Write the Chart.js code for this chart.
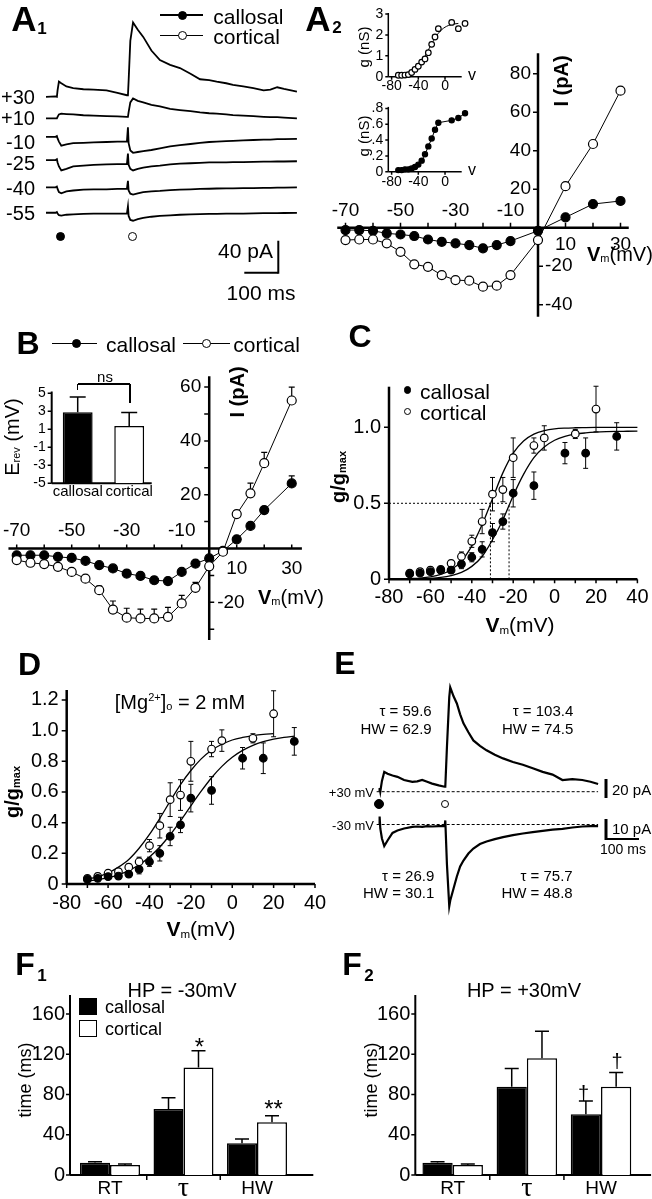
<!DOCTYPE html>
<html>
<head>
<meta charset="utf-8">
<script src="https://cdn.jsdelivr.net/npm/chart.js@4.4.0/dist/chart.umd.min.js"></script>
<style>
  body { margin: 0; width: 652px; height: 1199px; position: relative; background: #fff; overflow: hidden;
         font-family: "Liberation Sans", Arial, sans-serif; color: #000; }
  canvas { position: absolute; left: 0; top: 0; }
  .t { position: absolute; white-space: nowrap; line-height: 1; }
  .sym { position: absolute; box-sizing: border-box; }
  .sub { font-size: 55%; vertical-align: -0.15em; }
  .sup { font-size: 55%; vertical-align: 0.75em; }
</style>
</head>
<body>
<script>
// A1: traces at six holding potentials (ms, pA)
const a1Time = [0, 28, 32, 34, 38, 45, 60, 80, 110, 140, 178, 210, 238, 241, 243, 248, 256, 270, 286, 310,
  335, 365, 394, 425, 453, 480, 502, 530, 550, 580, 610, 640, 660, 680, 700, 738];
const a1Holding = ["+30", "+10", "-10", "-25", "-40", "-55"];
const a1P30 = [0, 0.5, 0, 8, 19, 17, 13, 11, 9.5, 9, 8, 5, 2, 2, 20, 70, 93, 84, 75, 58,
  46, 40, 36, 29, 22, 21, 19, 17, 15, 13, 11, 8, 9, 12, 10, 6.6];
const a1P10 = [0, 0, 0, 2, 5, 6, 5.5, 5, 4, 3.5, 3, 2.5, 2, 2, 8, 20, 25, 22, 20, 17,
  15, 12, 10.5, 9, 7.5, 6.5, 6, 5, 4, 3.5, 3, 2, 1.5, 1.5, 1, 0];
const a1M10 = [0, 0, 1, -2, -6, -11, -9.5, -8, -7.5, -7, -6.5, -6, -6, 12, -8, -17, -20, -19, -18, -16.5,
  -14.5, -12, -10.5, -9, -7.5, -6.5, -6, -5.5, -5, -4.5, -4, -3.5, -3.5, -3, -3, -2.5];
const a1M25 = [0, 0, 1, -3, -8, -13, -11, -8, -7, -6, -5.5, -5, -5, 8, -6, -11, -13, -11, -9.5, -8,
  -7, -5.5, -4.5, -4, -3.5, -3, -3, -2.8, -2.5, -2.5, -2.2, -2, -2, -1.8, -1.8, -1.5];
const a1M40 = [0, 0, 1, -2, -6, -7.5, -5, -4, -3, -2.5, -2.5, -2, -2, 8, -4, -8, -9, -7.5, -6, -5,
  -4.5, -3.5, -3, -2.5, -2, -1.8, -1.5, -1.3, -1.2, -1, -1, -0.8, -0.6, -0.5, -0.3, 0];
const a1M55 = [0, 0, 1, -1, -3, -3.5, -2.5, -2, -1.5, -1.2, -1, -1, -1, 8, -4, -9, -10, -8, -6.5, -5,
  -4, -3.2, -2.5, -2, -1.8, -1.5, -1.3, -1.2, -1, -1, -0.8, -0.6, -0.5, -0.5, -0.3, -0.2];

// A2: I-V of one cell, and conductance insets
const a2Volt = [-70, -65, -60, -55, -50, -45, -40, -35, -30, -25, -20, -15, -10, 0, 10, 20, 30];
const a2Callosal = [-1.2, -1.2, -1.6, -2.9, -3.5, -4.3, -6.1, -7.3, -8.1, -9, -10.7, -9, -6.9, -1.6, 5.4, 12.3, 13.9];
const a2Cortical = [-6.4, -6.1, -6.1, -8.1, -12.5, -19, -20.3, -24.6, -27.2, -27.5, -30.6, -30.1, -24.6, -6.4, 21.6, 43.5, 71.2];
const a2gVolt = [-70, -65, -60, -55, -50, -45, -40, -35, -30, -25, -20, -15, -10, 10, 20, 30];
const a2gCortical = [0.07, 0.07, 0.08, 0.1, 0.2, 0.35, 0.5, 0.7, 0.85, 1.15, 1.55, 1.9, 2.3, 2.6, 2.3, 2.55];
const a2gCallosal = [0.02, 0.02, 0.03, 0.03, 0.04, 0.06, 0.09, 0.14, 0.22, 0.32, 0.42, 0.53, 0.62, 0.65, 0.68, 0.74];
const a2gFitVolt = [-70, -65, -60, -55, -50, -45, -40, -35, -30, -25, -20, -15, -10, -5, 0, 5, 10, 15, 20];
const a2gFit = [0.04, 0.06, 0.09, 0.14, 0.22, 0.34, 0.5, 0.72, 0.98, 1.28, 1.58, 1.86, 2.08, 2.25, 2.37, 2.45, 2.5, 2.53, 2.55];

// B: mean I-V and reversal potential
const bVolt = [-70, -65, -60, -55, -50, -45, -40, -35, -30, -25, -20, -15, -10, -5, 0, 5, 10, 15, 20, 30];
const bCallosal = [-2.5, -2.5, -2.5, -3.1, -3.5, -4.6, -6.2, -7.4, -9.3, -10.2, -11.8, -12.1, -8.7, -5.6, -3.7, -0.9, 3.4, 8.4, 14.3, 24.2];
const bCallosalErr = [0.5, 0.5, 0.5, 0.5, 0.6, 0.8, 1, 1, 1.2, 1.2, 1.3, 1.3, 1, 0.8, 0.6, 0.5, 0.8, 1, 1.2, 2.8];
const bCortical = [-4.3, -5.3, -5.8, -6.8, -8.7, -11.2, -15.5, -22.7, -25.7, -26, -26, -25.4, -20.4, -14.6, -6.6, -1.2, 12.8, 20.5, 31.7, 55];
const bCorticalErr = [0.5, 0.5, 0.6, 0.7, 0.8, 1, 1.5, 3.2, 3.5, 3.5, 3.5, 3.5, 3, 2, 1, 0.8, 1.2, 3.8, 4, 5];
const bErevGroups = ["callosal", "cortical"];
const bErev = [2.9, 1.37];
const bErevErr = [1.7, 1.5];

// C: g/gmax (1 mM Mg)
const cVoltCortical = [-70, -65, -60, -55, -50, -45, -40, -35, -30, -25, -20, -10, -5, 10, 20];
const cCortical = [0.04, 0.05, 0.06, 0.065, 0.105, 0.15, 0.25, 0.38, 0.56, 0.59, 0.8, 0.88, 0.93, 0.956, 1.12];
const cCorticalErr = [0.015, 0.02, 0.02, 0.02, 0.02, 0.03, 0.04, 0.08, 0.11, 0.08, 0.13, 0.05, 0.08, 0.03, 0.15];
const cVoltCallosal = [-70, -65, -60, -55, -50, -45, -40, -35, -30, -25, -20, -10, 5, 15, 30];
const cCallosal = [0.035, 0.04, 0.05, 0.06, 0.06, 0.1, 0.145, 0.197, 0.307, 0.38, 0.566, 0.616, 0.83, 0.83, 0.94];
const cCallosalErr = [0.01, 0.015, 0.015, 0.02, 0.02, 0.03, 0.03, 0.05, 0.06, 0.05, 0.09, 0.09, 0.07, 0.1, 0.09];
const cFitVolt = [-70, -65, -60, -55, -50, -45, -40, -35, -30, -25, -20, -15, -10, -5, 0, 5, 10, 15, 20, 25, 30, 35, 40];
const cFitCortical = [0.004, 0.008, 0.016, 0.032, 0.063, 0.12, 0.22, 0.36, 0.53, 0.7, 0.83, 0.91, 0.955, 0.978, 0.99,
  0.995, 0.997, 0.998, 0.999, 1, 1, 1, 1];
const cFitCallosal = [0.002, 0.003, 0.006, 0.012, 0.024, 0.045, 0.085, 0.15, 0.26, 0.39, 0.55, 0.69, 0.8, 0.87, 0.915,
  0.94, 0.955, 0.963, 0.968, 0.971, 0.973, 0.974, 0.975];
const cHalf = [-31, -22];

// D: g/gmax (2 mM Mg)
const dVoltCortical = [-70, -65, -60, -55, -50, -45, -40, -35, -30, -25, -20, -10, -5, 10, 20];
const dCortical = [0.037, 0.05, 0.07, 0.08, 0.11, 0.145, 0.25, 0.38, 0.55, 0.58, 0.8, 0.88, 0.935, 0.95, 1.11];
const dCorticalErr = [0.015, 0.02, 0.02, 0.02, 0.02, 0.03, 0.04, 0.08, 0.11, 0.1, 0.13, 0.05, 0.07, 0.03, 0.15];
const dVoltCallosal = [-70, -65, -60, -55, -50, -45, -40, -35, -30, -25, -20, -10, 5, 15, 30];
const dCallosal = [0.03, 0.037, 0.048, 0.052, 0.065, 0.096, 0.145, 0.2, 0.31, 0.385, 0.56, 0.61, 0.82, 0.82, 0.93];
const dCallosalErr = [0.01, 0.015, 0.015, 0.02, 0.02, 0.03, 0.03, 0.05, 0.06, 0.05, 0.09, 0.09, 0.07, 0.1, 0.09];
const dFitVoltCortical = [-70, -65, -60, -55, -50, -45, -40, -35, -30, -25, -20, -15, -10, -5, 0, 5, 10, 15, 20];
const dFitCortical = [0.031, 0.047, 0.072, 0.11, 0.16, 0.233, 0.323, 0.428, 0.54, 0.648, 0.74, 0.816, 0.872, 0.911, 0.939,
  0.956, 0.968, 0.976, 0.98];
const dFitVoltCallosal = [-70, -65, -60, -55, -50, -45, -40, -35, -30, -25, -20, -15, -10, -5, 0, 5, 10, 15, 20, 25, 30];
const dFitCallosal = [0.019, 0.028, 0.041, 0.06, 0.087, 0.125, 0.176, 0.241, 0.321, 0.412, 0.51, 0.605, 0.693, 0.767, 0.826,
  0.871, 0.904, 0.928, 0.945, 0.956, 0.964];

// E: example traces at +30 / -30 mV
const eTime = [0, 1, 3, 8, 15, 25, 40, 55, 75, 100, 115, 130, 145, 160, 180, 198, 200, 205, 212, 215,
  225, 235, 245, 255, 270, 285, 305, 325, 350, 375, 405, 435, 465, 495, 525, 555, 585, 615, 640, 663];
const ePlus30 = [0, 4, 0, 12, 22, 20, 18, 16.5, 13, 11, 11.5, 13, 11, 9, 7, 5.5, 5.5, 50, 105, 116,
  106, 98, 86, 76, 66, 57, 51, 46, 41, 37, 33, 30, 26, 22, 19, 13, 14, 13, 11, 8.5];
const eMinus30 = [0, 4, -2, -7, -10.8, -8, -4.2, -3, -2, -1.2, -1, -1.2, -0.8, -1, -0.8, -0.8, 2, -20, -40.8, -38,
  -32, -26, -21, -18, -14.5, -12, -9.8, -8.5, -7.3, -6.3, -5.3, -4.5, -3.8, -3.2, -2.6, -2.2, -1.5, -1, -0.8, -0.8];

// F: kinetics (ms)
const fCats = ["RT", "τ", "HW"];
const f1Callosal = [12.3, 65.6, 31.5];
const f1CallosalErr = [1, 11.2, 4.3];
const f1Cortical = [10, 107, 52.4];
const f1CorticalErr = [1, 16.5, 6.6];
const f2Callosal = [12.3, 87.8, 60.3];
const f2CallosalErr = [1, 18.2, 13.3];
const f2Cortical = [10, 116, 87.8];
const f2CorticalErr = [1, 27, 14.2];

// ---------------------------------------------------------------
const W = 652, H = 1199;
const SANS = '"Liberation Sans", Arial, sans-serif';
const f = (px) => px + "px " + SANS;

function xy(xs, ys) { return xs.map((x, i) => ({ x: x, y: ys[i] })); }

function makeCanvas() {
  const c = document.createElement("canvas");
  c.width = W; c.height = H;
  document.body.appendChild(c);
  return c.getContext("2d");
}

function baseOptions(rect, xScale, yScale) {
  return {
    responsive: false,
    animation: false,
    events: [],
    layout: { autoPadding: false, padding: { left: rect[0], top: rect[1], right: W - rect[2], bottom: H - rect[3] } },
    plugins: { legend: { display: false }, tooltip: { enabled: false } },
    scales: {
      x: Object.assign({ display: false }, xScale),
      y: Object.assign({ display: false }, yScale)
    }
  };
}

// error bars from ds.err (upward, or both ways with ds.errBoth)
const errPlugin = {
  id: "errbars",
  beforeDatasetsDraw(chart) {
    const ctx = chart.ctx, ys = chart.scales.y;
    chart.data.datasets.forEach((ds, di) => {
      if (!ds.err) return;
      const meta = chart.getDatasetMeta(di);
      ctx.save();
      ctx.strokeStyle = "#000";
      ctx.lineWidth = ds.errWidth || 1.2;
      meta.data.forEach((el, i) => {
        const e = ds.err[i];
        if (!e) return;
        const raw = ds.data[i];
        const v = typeof raw === "object" ? raw.y : raw;
        const top = ys.getPixelForValue(v + e);
        const bot = ds.errBoth ? ys.getPixelForValue(v - e) : el.y;
        const cw = (ds.capWidth || 6) / 2;
        ctx.beginPath();
        ctx.moveTo(el.x, bot); ctx.lineTo(el.x, top);
        ctx.moveTo(el.x - cw, top); ctx.lineTo(el.x + cw, top);
        if (ds.errBoth) { ctx.moveTo(el.x - cw, bot); ctx.lineTo(el.x + cw, bot); }
        ctx.stroke();
      });
      ctx.restore();
    });
  }
};

// axis lines, ticks and tick labels placed through the chart scales
function axesPlugin(list) {
  return {
    id: "axes",
    beforeDatasetsDraw(chart) {
      const ctx = chart.ctx;
      list.forEach(a => {
        const horiz = a.scale === "x";
        const main = chart.scales[horiz ? "x" : "y"];
        const other = chart.scales[horiz ? "y" : "x"];
        const c = other.getPixelForValue(a.at);
        ctx.save();
        ctx.strokeStyle = "#000";
        ctx.fillStyle = "#000";
        if (a.from !== undefined) {
          ctx.lineWidth = a.width || 2;
          const p0 = main.getPixelForValue(a.from), p1 = main.getPixelForValue(a.to);
          ctx.beginPath();
          if (horiz) { ctx.moveTo(p0, c); ctx.lineTo(p1, c); } else { ctx.moveTo(c, p0); ctx.lineTo(c, p1); }
          ctx.stroke();
        }
        if (a.ticks) {
          ctx.lineWidth = a.tickWidth || 1.5;
          ctx.beginPath();
          a.ticks.forEach(v => {
            const p = main.getPixelForValue(v);
            const d = a.tickLen * a.tickSide;
            if (horiz) { ctx.moveTo(p, c); ctx.lineTo(p, c + d); } else { ctx.moveTo(c, p); ctx.lineTo(c + d, p); }
          });
          ctx.stroke();
        }
        if (a.labels) {
          ctx.textBaseline = "middle";
          a.labels.forEach(v => {
            const p = main.getPixelForValue(v);
            const t = a.fmt ? a.fmt(v) : String(v);
            ctx.font = a.fontFn ? a.fontFn(v) : a.font;
            if (horiz) { ctx.textAlign = "center"; ctx.fillText(t, p, c + a.offset); }
            else { ctx.textAlign = a.offset < 0 ? "right" : "left"; ctx.fillText(t, c + a.offset, p); }
          });
        }
        ctx.restore();
      });
    }
  };
}

// calibration bars: length from the scales, anchor in page pixels
function scaleBarPlugin(bars) {
  return {
    id: "scalebar",
    afterDatasetsDraw(chart) {
      const ctx = chart.ctx, xs = chart.scales.x, ys = chart.scales.y;
      bars.forEach(b => {
        ctx.save();
        ctx.strokeStyle = "#000";
        if (b.pA) {
          const len = Math.abs(ys.getPixelForValue(b.pA) - ys.getPixelForValue(0));
          ctx.lineWidth = b.vw || 2;
          ctx.beginPath(); ctx.moveTo(b.x, b.y + 1); ctx.lineTo(b.x, b.y - len); ctx.stroke();
        }
        if (b.ms) {
          const len = Math.abs(xs.getPixelForValue(b.ms) - xs.getPixelForValue(0));
          ctx.lineWidth = b.hw || 2;
          ctx.beginPath(); ctx.moveTo(b.x, b.y); ctx.lineTo(b.x + b.dir * len, b.y); ctx.stroke();
        }
        ctx.restore();
      });
    }
  };
}

function chart(type, rect, xScale, yScale, datasets, plugins, labels) {
  return new Chart(makeCanvas(), {
    type: type,
    data: labels ? { labels: labels, datasets: datasets } : { datasets: datasets },
    options: baseOptions(rect, xScale, yScale),
    plugins: [errPlugin].concat(plugins || [])
  });
}

function markers(xs, ys, filled, r, extra) {
  return Object.assign({
    data: xy(xs, ys), showLine: false, pointRadius: r, pointBorderWidth: 1.2,
    pointBorderColor: "#000", pointBackgroundColor: filled ? "#000" : "#fff",
    borderColor: "#000", borderWidth: 1, tension: 0, clip: false
  }, extra);
}
function curve(xs, ys, width, extra) {
  return Object.assign({
    data: xy(xs, ys), borderColor: "#000", borderWidth: width, pointRadius: 0,
    tension: 0, clip: false
  }, extra);
}

// ---- A1
const a1Traces = [a1P30, a1P10, a1M10, a1M25, a1M40, a1M55];
const a1Offset = [166.6, 139.6, 116.6, 87.5, 53.4, 21.6];   // stacking of the traces
chart("line", [46, 15, 297.6, 230], { type: "linear", min: 0, max: 740 }, { min: 0, max: 269 },
  a1Traces.map((vals, k) => curve(a1Time, vals.map(v => v + a1Offset[k]), 1.8)),
  [scaleBarPlugin([{ x: 278.3, y: 272.7, pA: 40, ms: 100, dir: -1, vw: 2, hw: 2 }])]);

// ---- A2 main I-V
chart("line", [337.25, 53.3, 628.75, 316.7], { type: "linear", min: -73, max: 33 }, { min: -46.2, max: 90.6 }, [
  markers(a2Volt, a2Cortical, false, 4.5, { showLine: true }),
  markers(a2Volt, a2Callosal, true, 4.5, { showLine: true })
], [axesPlugin([
  { scale: "x", at: 0, from: -73, to: 33, width: 2.5, ticks: [-70, -60, -50, -40, -30, -20, -10, 10, 20, 30],
    tickLen: 5, tickSide: -1, labels: [-70, -50, -30, -10], offset: -17, font: f(19) },
  { scale: "x", at: 0, labels: [10, 30], offset: 17, font: f(19) },
  { scale: "y", at: 0, from: -46.2, to: 90.6, width: 2.5, ticks: [20, 40, 60, 80], tickLen: 5, tickSide: -1,
    labels: [20, 40, 60, 80], offset: -7, font: f(19) },
  { scale: "y", at: 0, ticks: [-20, -40], tickLen: 5, tickSide: 1, labels: [-20, -40], offset: 7, font: f(19) }
])]);

// ---- A2 insets
chart("line", [388.3, 13, 461.7, 76.7], { type: "linear", min: -85, max: 25 }, { min: 0, max: 3.05 }, [
  markers(a2gVolt, a2gCortical, false, 2.8),
  curve(a2gFitVolt, a2gFit, 1, { cubicInterpolationMode: "monotone" })
], [axesPlugin([
  { scale: "y", at: -85, from: 0, to: 3.05, width: 1.5, ticks: [0, 1, 2, 3], tickLen: 3, tickSide: -1,
    labels: [0, 1, 2, 3], offset: -5, font: f(14) },
  { scale: "x", at: 0, from: -85, to: 25, width: 1.5, ticks: [-80, -40, 0], tickLen: 3, tickSide: 1,
    labels: [-80, -40, 0], offset: 9, font: f(14) }
])]);
chart("line", [388.3, 106.9, 461.7, 171.7], { type: "linear", min: -85, max: 25 }, { min: 0, max: 0.82 }, [
  markers(a2gVolt, a2gCallosal, true, 2.6, { showLine: true })
], [axesPlugin([
  { scale: "y", at: -85, from: 0, to: 0.82, width: 1.5, ticks: [0, 0.2, 0.4, 0.6, 0.8], tickLen: 3, tickSide: -1,
    labels: [0, 0.2, 0.4, 0.6, 0.8], fmt: v => v === 0 ? "0" : String(v).replace("0.", "."), offset: -5, font: f(14) },
  { scale: "x", at: 0, from: -85, to: 25, width: 1.5, ticks: [-80, -40, 0], tickLen: 3, tickSide: 1,
    labels: [-80, -40, 0], offset: 10, font: f(14) }
])]);

// ---- B main I-V
chart("line", [8.45, 376.3, 301.9, 640], { type: "linear", min: -73, max: 33.7 }, { min: -34, max: 64 }, [
  markers(bVolt, bCortical, false, 4.5, { showLine: true, err: bCorticalErr, capWidth: 6 }),
  markers(bVolt, bCallosal, true, 4.5, { showLine: true, err: bCallosalErr, capWidth: 6 })
], [axesPlugin([
  { scale: "x", at: 0, from: -73, to: 33.7, width: 2.5, ticks: [-70, -60, -50, -40, -30, -20, -10, 10, 20, 30],
    tickLen: 4, tickSide: -1, labels: [-70, -50, -30, -10], offset: -18, font: f(19) },
  { scale: "x", at: 0, labels: [10, 30], offset: 20, font: f(19) },
  { scale: "y", at: 0, from: -34, to: 64, width: 2.5, ticks: [10, 20, 30, 40, 50, 60], tickLen: 5, tickSide: -1,
    labels: [20, 40, 60], offset: -8, font: f(19) },
  { scale: "y", at: 0, ticks: [-10, -20, -30], tickLen: 5, tickSide: 1, labels: [-20], offset: 8, font: f(19) }
])]);

// ---- B inset: Erev
chart("bar", [51.95, 391.5, 154.95, 483.3], {}, { min: -5, max: 5.2 }, [{
  data: bErev, err: bErevErr, capWidth: 16, errWidth: 1.5, base: -5,
  backgroundColor: ["#000", "#fff"], borderColor: "#000", borderWidth: 1.5,
  categoryPercentage: 1, barPercentage: 0.58
}], [axesPlugin([
  { scale: "y", at: -0.505, from: -5, to: 5.2, width: 2, ticks: [-5, -3, -1, 1, 3, 5], tickLen: 4, tickSide: -1,
    labels: [-5, -3, -1, 1, 3, 5], offset: -6, font: f(14) },
  { scale: "x", at: -5, from: -0.505, to: 1.437, width: 2, labels: [0, 1], fmt: i => bErevGroups[i], offset: 9, font: f(15) }
])], bErevGroups);

// ---- C
function gPanel(rect, yMax, yTicks, fmt, vCo, gCo, eCo, vCa, gCa, eCa, fitCo, fitCa, extra, labelOffset) {
  const ds = [
    markers(vCa, gCa, true, 3.8, { err: eCa, errBoth: true, capWidth: 5, errWidth: 1 }),
    markers(vCo, gCo, false, 3.8, { err: eCo, errBoth: true, capWidth: 5, errWidth: 1 }),
    curve(fitCo[0], fitCo[1], 1.3, { cubicInterpolationMode: "monotone" }),
    curve(fitCa[0], fitCa[1], 1.3, { cubicInterpolationMode: "monotone" })
  ].concat(extra);
  chart("line", rect, { type: "linear", min: -80, max: 40 }, { min: 0, max: yMax }, ds, [axesPlugin([
    { scale: "y", at: -80, from: 0, to: yMax, width: 2.5, ticks: yTicks, tickLen: 5, tickSide: -1,
      labels: yTicks, fmt: fmt, offset: -8, font: f(20) },
    { scale: "x", at: 0, from: -80, to: 40, width: 2.5, ticks: [-80, -70, -60, -50, -40, -30, -20, -10, 0, 10, 20, 30, 40],
      tickLen: 4, tickSide: 1, labels: [-80, -60, -40, -20, 0, 20, 40], offset: labelOffset, font: f(20) }
  ])]);
}
const dotted = { borderDash: [2, 2], borderWidth: 1 };
gPanel([389, 386.7, 637.4, 579.3], 1.267, [0, 0.5, 1], v => v === 0 ? "0" : v.toFixed(1),
  cVoltCortical, cCortical, cCorticalErr, cVoltCallosal, cCallosal, cCallosalErr,
  [cFitVolt, cFitCortical], [cFitVolt, cFitCallosal], [
    curve([-80, cHalf[1]], [0.5, 0.5], 1, dotted),
    curve([cHalf[0], cHalf[0]], [0, 0.5], 1, dotted),
    curve([cHalf[1], cHalf[1]], [0, 0.5], 1, dotted)
  ], 18);

// ---- D
gPanel([66.7, 690, 315, 884], 1.265, [0, 0.2, 0.4, 0.6, 0.8, 1, 1.2], v => v === 0 ? "0" : v.toFixed(1),
  dVoltCortical, dCortical, dCorticalErr, dVoltCallosal, dCallosal, dCallosalErr,
  [dFitVoltCortical, dFitCortical], [dFitVoltCallosal, dFitCallosal], [], 19);

// ---- E
const eBase = { borderDash: [3, 2], borderWidth: 1 };
chart("line", [376, 683.7, 598.75, 800.7], { type: "linear", min: -10, max: 665 }, { min: -10, max: 120 }, [
  curve(eTime, ePlus30, 2.2),
  curve([-8, 663], [0, 0], 1, eBase)
], [scaleBarPlugin([{ x: 606, y: 797, pA: 20, vw: 3 }])]);
chart("line", [376, 814.5, 598.75, 908.5], { type: "linear", min: -10, max: 665 }, { min: -42, max: 5 }, [
  curve(eTime, eMinus30, 2.2),
  curve([-8, 663], [0, 0], 1, eBase)
], [scaleBarPlugin([{ x: 606, y: 839, pA: 10, ms: 100, dir: 1, vw: 3, hw: 2 }])]);

// ---- F1 / F2
function fPanel(rect, yAt, xTo, cal, calErr, cor, corErr) {
  chart("bar", rect, {}, { min: 0, max: 179 }, [
    { data: cal, err: calErr, backgroundColor: "#000", borderColor: "#000", borderWidth: 1.5,
      categoryPercentage: 0.816, barPercentage: 1, capWidth: 14, errWidth: 1.5 },
    { data: cor, err: corErr, backgroundColor: "#fff", borderColor: "#000", borderWidth: 1.5,
      categoryPercentage: 0.816, barPercentage: 1, capWidth: 14, errWidth: 1.5 }
  ], [axesPlugin([
    { scale: "y", at: yAt, from: 0, to: 179, width: 2, ticks: [0, 40, 80, 120, 160], tickLen: 4, tickSide: -1,
      labels: [0, 40, 80, 120, 160], offset: -5, font: f(20) },
    { scale: "x", at: 0, from: yAt, to: xTo, width: 2, ticks: [0.5, 1.5], tickLen: 5, tickSide: 1,
      labels: [0, 1, 2], fmt: i => fCats[i], offset: 14,
      fontFn: i => i === 1 ? '28px "Liberation Serif", serif' : f(19) }
  ])], fCats);
}
fPanel([73.25, 995, 293.75, 1175], -0.544, 2.766, f1Callosal, f1CallosalErr, f1Cortical, f1CorticalErr);
fPanel([415.6, 995, 638.1, 1175], -0.504, 2.675, f2Callosal, f2CallosalErr, f2Cortical, f2CorticalErr);

// ---------------------------------------------------------------
// text and legend symbols
function txt(html, x, y, o) {
  o = o || {};
  const d = document.createElement("div");
  d.className = "t";
  d.innerHTML = html;
  d.style.left = x + "px";
  d.style.top = y + "px";
  d.style.fontSize = (o.size || 16) + "px";
  if (o.bold) d.style.fontWeight = "bold";
  if (o.family) d.style.fontFamily = o.family;
  const ax = o.align === "right" ? "-100%" : o.align === "left" ? "0" : "-50%";
  d.style.transform = "translate(" + ax + ",-50%)" + (o.rot ? " rotate(" + o.rot + "deg)" : "");
  document.body.appendChild(d);
}
function dot(x, y, r, filled) {
  const d = document.createElement("div");
  d.className = "sym";
  Object.assign(d.style, { left: (x - r) + "px", top: (y - r) + "px", width: 2 * r + "px", height: 2 * r + "px",
    borderRadius: "50%", border: "1.3px solid #000", background: filled ? "#000" : "#fff" });
  document.body.appendChild(d);
}
function box(x0, y0, x1, y1, bg, bw) {
  const d = document.createElement("div");
  d.className = "sym";
  Object.assign(d.style, { left: x0 + "px", top: y0 + "px", width: (x1 - x0) + "px", height: (y1 - y0) + "px",
    background: bg, border: bw ? bw + "px solid #000" : "none" });
  document.body.appendChild(d);
}
function hline(x0, x1, y, w) { box(x0, y - w / 2, x1, y + w / 2, "#000"); }
function vline(x, y0, y1, w) { box(x - w / 2, y0, x + w / 2, y1, "#000"); }

const Vm = '<b>V</b><span class="sub">m</span>(mV)';

// A1
txt("A", 24, 18, { size: 35, bold: true });
txt("1", 42, 28, { size: 17, bold: true });
hline(160, 203.3, 15, 1.5); dot(182.7, 15, 4.5, true);
txt("callosal", 213.3, 15.5, { size: 21, align: "left" });
hline(160, 203.3, 35.5, 1.5); dot(182.7, 35.5, 4.5, false);
txt("cortical", 213.3, 36, { size: 21, align: "left" });
const a1LabelY = [97.3, 118.3, 141.7, 163.3, 188.3, 213.3];
a1Holding.forEach((h, i) => txt(h, 35, a1LabelY[i], { size: 20, align: "right" }));
dot(60, 236, 4.5, true); dot(132.7, 236, 4.5, false);
txt("40 pA", 273, 250, { size: 21, align: "right" });
txt("100 ms", 261, 291.7, { size: 21 });

// A2
txt("A", 318, 18, { size: 35, bold: true });
txt("2", 337, 27, { size: 17, bold: true });
txt("I (pA)", 561, 81, { size: 20, bold: true, rot: -90 });
txt(Vm, 587, 253.5, { size: 20, align: "left" });
txt("g (nS)", 363, 47, { size: 15, rot: -90 });
txt("g (nS)", 363, 136, { size: 15, rot: -90 });
txt("v", 472, 75, { size: 16 });
txt("v", 472, 170, { size: 16 });

// B
txt("B", 28, 342.5, { size: 32, bold: true });
hline(51.7, 96.7, 343.3, 1.5); dot(76, 343.3, 4.5, true);
txt("callosal", 106, 343.5, { size: 21, align: "left" });
hline(182.7, 230, 343.3, 1.5); dot(206.7, 343.3, 4.5, false);
txt("cortical", 233.3, 343.5, { size: 21, align: "left" });
hline(77.7, 130, 384, 1.3); vline(77.7, 384, 390, 1.3); vline(130, 384, 403.3, 1.3);
txt("ns", 105, 375.5, { size: 15 });
txt('E<span class="sub">rev</span> (mV)', 12, 437, { size: 20, rot: -90 });
txt("I (pA)", 237, 392, { size: 20, bold: true, rot: -90 });
txt(Vm, 258, 597, { size: 20, align: "left" });

// C
txt("C", 360, 336, { size: 32, bold: true });
dot(407.3, 390, 3.8, true);
txt("callosal", 420, 390.5, { size: 21, align: "left" });
dot(407.3, 411.7, 3.8, false);
txt("cortical", 420, 412, { size: 21, align: "left" });
txt('<b>g/g<span class="sub">max</span></b>', 338, 477, { size: 20, rot: -90 });
txt(Vm, 520, 625, { size: 21 });

// D
txt("D", 29.5, 663.5, { size: 32, bold: true });
txt('[Mg<span class="sup">2+</span>]<span class="sub">o</span> = 2 mM', 180, 702, { size: 20 });
txt('<b>g/g<span class="sub">max</span></b>', 12, 792, { size: 20, rot: -90 });
txt(Vm, 201, 929, { size: 21 });

// E
txt("E", 345, 662.5, { size: 32, bold: true });
txt("τ = 59.6", 431.7, 710, { size: 15, align: "right" });
txt("HW = 62.9", 431.7, 728.3, { size: 15, align: "right" });
txt("τ = 103.4", 573.3, 710, { size: 15, align: "right" });
txt("HW = 74.5", 573.3, 728.3, { size: 15, align: "right" });
txt("τ = 26.9", 434.3, 875, { size: 15, align: "right" });
txt("HW = 30.1", 434.3, 891.7, { size: 15, align: "right" });
txt("τ = 75.7", 572.7, 875, { size: 15, align: "right" });
txt("HW = 48.8", 572.7, 891.7, { size: 15, align: "right" });
txt("+30 mV", 374, 792, { size: 13, align: "right" });
txt("-30 mV", 374, 825, { size: 13, align: "right" });
dot(379.3, 804.3, 5, true); dot(445, 804.3, 4, false);
txt("20 pA", 612, 789, { size: 15, align: "left" });
txt("10 pA", 612, 828, { size: 15, align: "left" });
txt("100 ms", 623, 849, { size: 14 });

// F1
txt("F", 25, 963.5, { size: 32, bold: true });
txt("1", 42, 975, { size: 17, bold: true });
txt("HP = -30mV", 182, 990, { size: 20 });
box(79, 998, 96.7, 1015, "#000");
txt("callosal", 105, 1006.5, { size: 18, align: "left" });
box(79, 1020, 97, 1037, "#fff", 1.2);
txt("cortical", 105, 1028.5, { size: 18, align: "left" });
txt("time (ms)", 25, 1080, { size: 18, rot: -90 });
txt("*", 199.3, 1046.5, { size: 24 });
txt("**", 273.5, 1109, { size: 24 });

// F2
txt("F", 352, 963.5, { size: 32, bold: true });
txt("2", 369, 975, { size: 17, bold: true });
txt("HP = +30mV", 524, 990, { size: 20 });
txt("time (ms)", 371, 1080, { size: 18, rot: -90 });
txt("†", 583.5, 1092.5, { size: 20 });
txt("†", 617, 1061, { size: 20 });
</script>
</body>
</html>
